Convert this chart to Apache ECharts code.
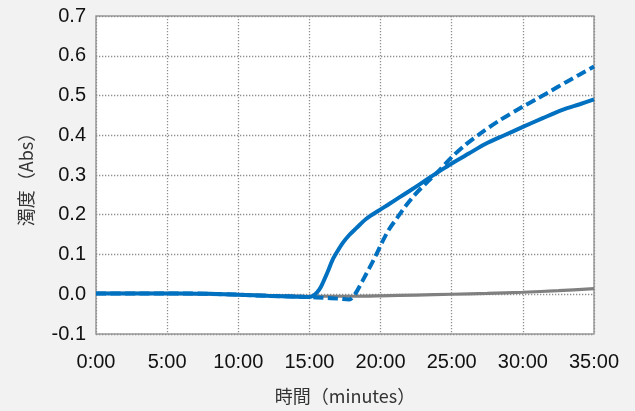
<!DOCTYPE html>
<html>
<head>
<meta charset="utf-8">
<script src="https://cdn.jsdelivr.net/npm/echarts@6/dist/echarts.min.js"></script>
<style>
html,body{margin:0;padding:0;background:#f2f2f2;}
#c{width:635px;height:411px;}
</style>
</head>
<body>
<div id="c"></div>
<script>
// time in minutes, turbidity in Abs
const solidSeries = [
  [0,0.002],[3,0.002],[6,0.002],[8,0.001],[10,-0.001],[12,-0.004],[14,-0.006],[15,-0.007],
  [15.4,0.0],[15.7,0.012],[15.92,0.027],[16.3,0.058],[16.62,0.086],[17,0.11],[17.32,0.128],
  [17.8,0.149],[18.26,0.165],[19,0.19],[19.89,0.211],[20.6,0.227],[21.29,0.243],[22,0.259],
  [22.69,0.275],[23.39,0.292],[24.2,0.311],[25,0.329],[26.2,0.354],[27.36,0.378],[28.7,0.400],
  [30,0.421],[31.4,0.443],[32.73,0.463],[34,0.478],[35,0.49]
];
const dashedSeries = [
  [0,0.002],[3,0.002],[6,0.002],[8,0.001],[10,-0.001],[12,-0.004],[14,-0.006],[15,-0.007],
  [16,-0.009],[17,-0.011],[17.8,-0.013],[18.2,0.0],[18.72,0.033],[19.2,0.065],[19.66,0.097],
  [20.1,0.13],[20.59,0.163],[21.2,0.194],[21.76,0.222],[22.4,0.25],[23.16,0.278],[24,0.307],
  [25,0.345],[26,0.377],[27,0.404],[28.3,0.436],[30,0.472],[31,0.492],[32,0.512],[33,0.533],
  [34,0.553],[35,0.573]
];
const graySeries = [
  [0,0.002],[5,0.002],[10,-0.001],[15,-0.005],[18,-0.005],[20,-0.004],[22.5,-0.002],
  [25,0.0],[27.5,0.002],[30,0.005],[32.5,0.009],[35,0.014]
];
const xTicks = {min:0, max:35, step:5};
const yTicks = {min:-0.1, max:0.7, step:0.1};
const xName = '時間（minutes）';
const yName = '濁度（Abs）';

const chart = echarts.init(document.getElementById('c'));
const gridLine = {show:true, lineStyle:{color:'#8f8f8f', width:1.3, type:[1.3,1.7]}};
chart.setOption({
  backgroundColor:'#f2f2f2',
  animation:false,
  grid:{left:96, right:41, top:16, bottom:77, show:true, backgroundColor:'#ffffff', borderColor:'#9a9a9a', borderWidth:1.5},
  xAxis:{
    type:'value', min:xTicks.min, max:xTicks.max, interval:xTicks.step,
    axisLine:{show:false}, axisTick:{show:false},
    splitLine:gridLine,
    axisLabel:{margin:18, color:'#111', fontSize:20, fontFamily:'Liberation Sans, Arial, sans-serif', formatter:v=>v+':00'},
    name:xName, nameLocation:'middle', nameGap:53,
    nameTextStyle:{color:'#333', fontSize:18, fontFamily:'Noto Sans CJK JP'}
  },
  yAxis:{
    type:'value', min:yTicks.min, max:yTicks.max, interval:yTicks.step,
    axisLine:{show:false}, axisTick:{show:false},
    splitLine:gridLine,
    axisLabel:{margin:10, color:'#111', fontSize:20, fontFamily:'Liberation Sans, Arial, sans-serif', formatter:v=>v.toFixed(1)},
    name:yName, nameLocation:'middle', nameGap:61,
    nameTextStyle:{color:'#333', fontSize:18, fontFamily:'Noto Sans CJK JP'}
  },
  series:[
    {type:'line', data:graySeries, showSymbol:false, smooth:0.3, lineStyle:{color:'#808080', width:3.2}},
    {type:'line', data:dashedSeries, showSymbol:false, smooth:0.3, lineStyle:{color:'#0070c0', width:4, type:[10,4.5]}},
    {type:'line', data:solidSeries, showSymbol:false, smooth:0.3, lineStyle:{color:'#0070c0', width:4}}
  ]
});
</script>
</body>
</html>
